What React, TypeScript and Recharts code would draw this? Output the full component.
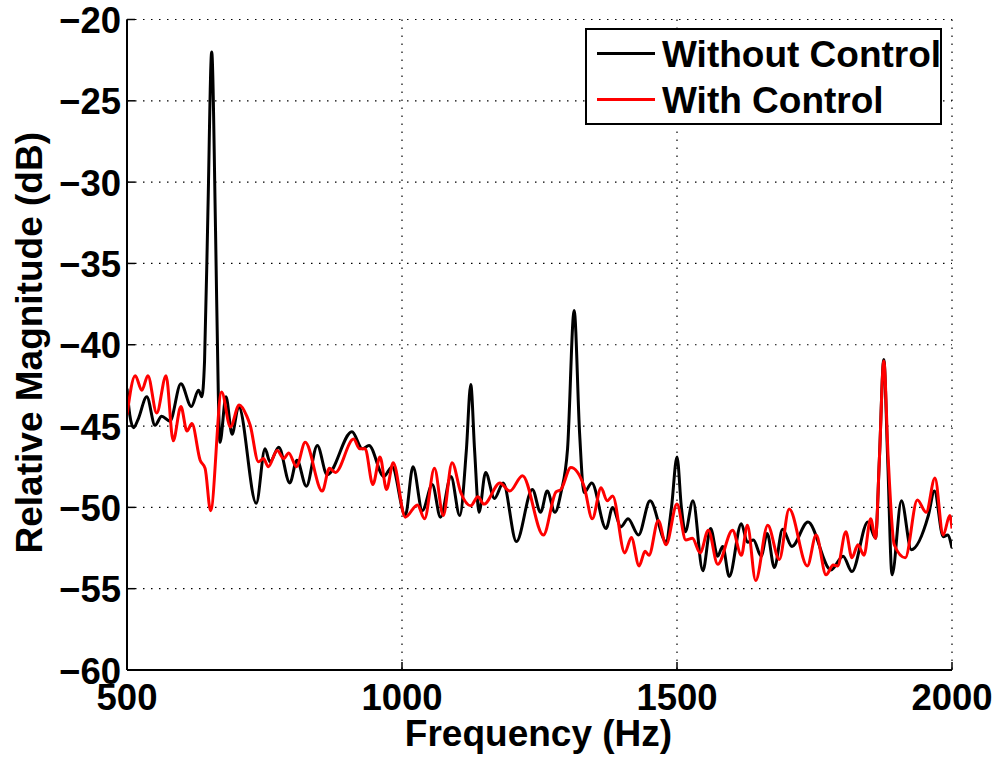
import React from 'react';
import { LineChart, Line, XAxis, YAxis, CartesianGrid, Legend } from 'recharts';

// ---- data ----
const withoutFreq = [
  500, 505, 512, 520, 536, 551, 563, 578, 598, 617, 630, 636, 641, 647, 654, 661, 666, 669,
  680, 691, 703, 735, 751, 760, 776, 796, 809, 826, 846, 864, 909, 928, 940, 967, 982,
  1006, 1020, 1037, 1055, 1070, 1089, 1105, 1117, 1125, 1132, 1140, 1152, 1168, 1184, 1208,
  1237, 1252, 1264, 1278, 1289, 1301, 1313, 1323, 1331, 1345, 1371, 1383, 1398, 1411, 1430,
  1451, 1480, 1490, 1500, 1508, 1515, 1529, 1547, 1561, 1574, 1583, 1595, 1617, 1628, 1639,
  1653, 1664, 1677, 1692, 1709, 1738, 1780, 1802, 1818, 1847, 1861, 1868, 1876, 1883, 1891,
  1908, 1926, 1957, 1968, 1984, 1992, 2000,
];
const withoutDb = [
  -42.7, -44.3, -45.1, -44.6, -43.2, -44.95, -44.4, -44.7, -42.4, -43.8, -42.8, -43.2, -41, -32, -22.0, -33, -43, -46.0,
  -43.2, -45.5, -43.8, -49.75, -46.4, -47.2, -46.3, -48.5, -47.1, -48.7, -46.2, -48.0, -45.35, -46.4, -46.2, -48.1, -47.5,
  -50.5, -47.5, -50.2, -48.6, -50.6, -48.1, -50.5, -46.5, -42.45, -46.5, -50.3, -47.85, -49.45, -48.5, -52.1,
  -48.9, -50.3, -49.0, -50.3, -49.1, -46.4, -37.9, -45.5, -49.1, -48.5, -51.3, -50.0, -51.2, -50.7, -51.7,
  -49.6, -52.1, -50.0, -46.9, -50.0, -51.5, -49.6, -53.9, -51.3, -53.0, -52.4, -54.25, -51.0, -52.15, -52.0,
  -53.0, -51.6, -53.7, -51.35, -52.4, -50.9, -53.85, -53.0, -53.95, -50.9, -51.9, -47, -40.9, -47, -54.15,
  -49.6, -52.6, -50.5, -49.0, -51.8, -51.7, -52.5,
];

const withFreq = [
  500, 515, 527, 538, 554, 571, 584, 598, 609, 618, 633, 642, 652, 672, 688, 704, 718, 724,
  739, 748, 757, 773, 785, 794, 808, 824, 855, 868, 879, 912, 923, 933, 947, 960, 972, 984,
  1006, 1028, 1041, 1059, 1075, 1091, 1107, 1125, 1138, 1149, 1178, 1196, 1219, 1257, 1280,
  1289, 1307, 1331, 1346, 1362, 1373, 1383, 1405, 1417, 1431, 1442, 1449, 1466, 1480, 1500,
  1516, 1528, 1542, 1557, 1574, 1601, 1617, 1628, 1643, 1665, 1686, 1704, 1737, 1753, 1771,
  1784, 1792, 1807, 1818, 1829, 1840, 1852, 1861, 1868, 1876, 1884, 1895, 1915, 1937, 1953,
  1969, 1984, 1996, 2000,
];
const withDb = [
  -44.3, -41.9, -42.8, -41.9, -44.2, -41.9, -45.9, -43.8, -45.3, -44.85, -47.1, -47.6, -50.2, -42.9, -45.05, -43.7, -44.4, -44.95,
  -47.2, -47.0, -47.5, -46.5, -47.0, -46.65, -47.5, -46.0, -49.0, -47.6, -47.85, -45.8, -46.4, -46.4, -48.6, -46.9, -48.9, -47.25,
  -50.6, -49.85, -50.7, -47.6, -50.5, -47.25, -49.1, -49.9, -49.35, -49.8, -48.5, -49.0, -48.05, -51.7, -49.05,
  -48.9, -47.55, -48.7, -50.7, -48.8, -49.6, -49.3, -52.8, -51.85, -53.6, -52.7, -52.95, -50.8, -52.3, -49.8,
  -52.0, -51.9, -52.8, -51.4, -53.5, -51.4, -52.95, -51.1, -54.5, -51.1, -53.2, -50.1, -53.6, -51.7, -54.15,
  -53.55, -53.6, -51.5, -53.1, -52.3, -52.95, -50.7, -51.9, -47, -41.0, -47, -52.3, -53.1, -49.55, -50.3,
  -48.2, -51.7, -50.5, -51.3,
];

const xTicks = [500, 1000, 1500, 2000];
const yTicks = [-60, -55, -50, -45, -40, -35, -30, -25, -20];
const seriesNames = ['Without Control', 'With Control'];
const seriesColors = ['#000000', '#ff0000'];

const withoutData = withoutFreq.map((f, i) => ({ f, v: withoutDb[i] }));
const withData = withFreq.map((f, i) => ({ f, v: withDb[i] }));

const FONT = '"Liberation Sans", Arial, Helvetica, sans-serif';
const TICK_LEN = 8;
const TICK_FS = 36.5;
const LABEL_FS = 37;

const fmt = (v: number) => String(v).replace('-', '\u2212');

const LeftTick = (props: any) => {
  const { x, y, payload } = props;
  return (
    <g>
      <line x1={x} y1={y} x2={x + TICK_LEN} y2={y} stroke="#000" strokeWidth={1.5} />
      <text x={x - 6} y={y + 13.5} textAnchor="end" fontFamily={FONT} fontWeight="bold" fontSize={TICK_FS} fill="#000">
        {fmt(payload.value)}
      </text>
    </g>
  );
};
const RightTick = (props: any) => {
  const { x, y } = props;
  return <line x1={x} y1={y} x2={x - TICK_LEN} y2={y} stroke="#000" strokeWidth={1.5} />;
};
const BottomTick = (props: any) => {
  const { x, y, payload } = props;
  return (
    <g>
      <line x1={x} y1={y} x2={x} y2={y - TICK_LEN} stroke="#000" strokeWidth={1.5} />
      <text x={x} y={y + 40} textAnchor="middle" fontFamily={FONT} fontWeight="bold" fontSize={TICK_FS} fill="#000">
        {fmt(payload.value)}
      </text>
    </g>
  );
};
const TopTick = (props: any) => {
  const { x, y } = props;
  return <line x1={x} y1={y} x2={x} y2={y + TICK_LEN} stroke="#000" strokeWidth={1.5} />;
};

const YLabel = (props: any) => {
  const vb = props.viewBox || { x: 0, y: 19.5, width: 127, height: 650.5 };
  const cx = vb.x + 42;
  const cy = vb.y + vb.height / 2 - 2;
  return (
    <text x={cx} y={cy} transform={`rotate(-90 ${cx} ${cy})`} textAnchor="middle" fontFamily={FONT} fontWeight="bold" fontSize={LABEL_FS} fill="#000">
      Relative Magnitude (dB)
    </text>
  );
};
const XLabel = (props: any) => {
  const vb = props.viewBox || { x: 127, y: 670, width: 825, height: 89 };
  return (
    <text x={vb.x + vb.width / 2 - 1} y={vb.y + 76} textAnchor="middle" fontFamily={FONT} fontWeight="bold" fontSize={LABEL_FS} fill="#000">
      Frequency (Hz)
    </text>
  );
};

const LegendBox = (props: any) => {
  const payload = [...(props.payload || [])].sort(
    (a: any, b: any) => seriesNames.indexOf(a.value) - seriesNames.indexOf(b.value)
  );
  const W = 357;
  const H = 97;
  return (
    <svg width={W} height={H} style={{ display: 'block' }}>
      <rect x={1} y={1} width={W - 2} height={H - 2} fill="#fff" stroke="#000" strokeWidth={2} />
      {payload.map((p: any, i: number) => {
        const ly = 25.5 + i * 46;
        return (
          <g key={i}>
            <line x1={12} y1={ly} x2={70} y2={ly} stroke={p.color} strokeWidth={3} />
            <text x={77} y={ly + 13.5} fontFamily={FONT} fontWeight="bold" fontSize={LABEL_FS} fill="#000">
              {p.value}
            </text>
          </g>
        );
      })}
    </svg>
  );
};

export default function App() {
  return (
    <div style={{ position: 'absolute', left: 0, top: 0, width: 995, height: 759, background: '#fff' }}>
      <LineChart width={995} height={759} margin={{ top: 19.5, right: 43, left: 0, bottom: 0 }}>
        <CartesianGrid
          xAxisId="b"
          yAxisId="l"
          stroke="#000"
          strokeDasharray="1.5 6.5"
          strokeWidth={1.2}
        />
        <XAxis
          xAxisId="b"
          type="number"
          dataKey="f"
          domain={[500, 2000]}
          ticks={xTicks}
          interval={0}
          orientation="bottom"
          height={89}
          tickSize={0}
          tickMargin={0}
          tickLine={false}
          axisLine={{ stroke: '#000', strokeWidth: 2 }}
          tick={<BottomTick />}
          label={(p: any) => <XLabel {...p} />}
          allowDataOverflow
        />
        <XAxis
          xAxisId="t"
          type="number"
          dataKey="f"
          domain={[500, 2000]}
          ticks={xTicks}
          interval={0}
          orientation="top"
          height={0}
          tickSize={0}
          tickMargin={0}
          tickLine={false}
          axisLine={{ stroke: '#000', strokeWidth: 2 }}
          tick={<TopTick />}
          allowDataOverflow
        />
        <YAxis
          yAxisId="l"
          type="number"
          domain={[-60, -20]}
          ticks={yTicks}
          interval={0}
          orientation="left"
          width={127}
          tickSize={0}
          tickMargin={0}
          tickLine={false}
          axisLine={{ stroke: '#000', strokeWidth: 2 }}
          tick={<LeftTick />}
          label={(p: any) => <YLabel {...p} />}
          allowDataOverflow
        />
        <YAxis
          yAxisId="r"
          type="number"
          domain={[-60, -20]}
          ticks={yTicks}
          interval={0}
          orientation="right"
          width={0}
          tickSize={0}
          tickMargin={0}
          tickLine={false}
          axisLine={{ stroke: '#000', strokeWidth: 2 }}
          tick={<RightTick />}
          allowDataOverflow
        />
        <Legend
          verticalAlign="middle"
          align="center"
          layout="vertical"
          wrapperStyle={{ top: 28, left: 585, width: 357, height: 97 }}
          content={(p: any) => <LegendBox {...p} />}
        />
        <Line
          xAxisId="b"
          yAxisId="l"
          data={withoutData}
          dataKey="v"
          name={seriesNames[0]}
          type="monotone"
          stroke={seriesColors[0]}
          strokeWidth={3}
          dot={false}
          activeDot={false}
          isAnimationActive={false}
        />
        <Line
          xAxisId="b"
          yAxisId="l"
          data={withData}
          dataKey="v"
          name={seriesNames[1]}
          type="monotone"
          stroke={seriesColors[1]}
          strokeWidth={3}
          dot={false}
          activeDot={false}
          isAnimationActive={false}
        />
      </LineChart>
    </div>
  );
}
